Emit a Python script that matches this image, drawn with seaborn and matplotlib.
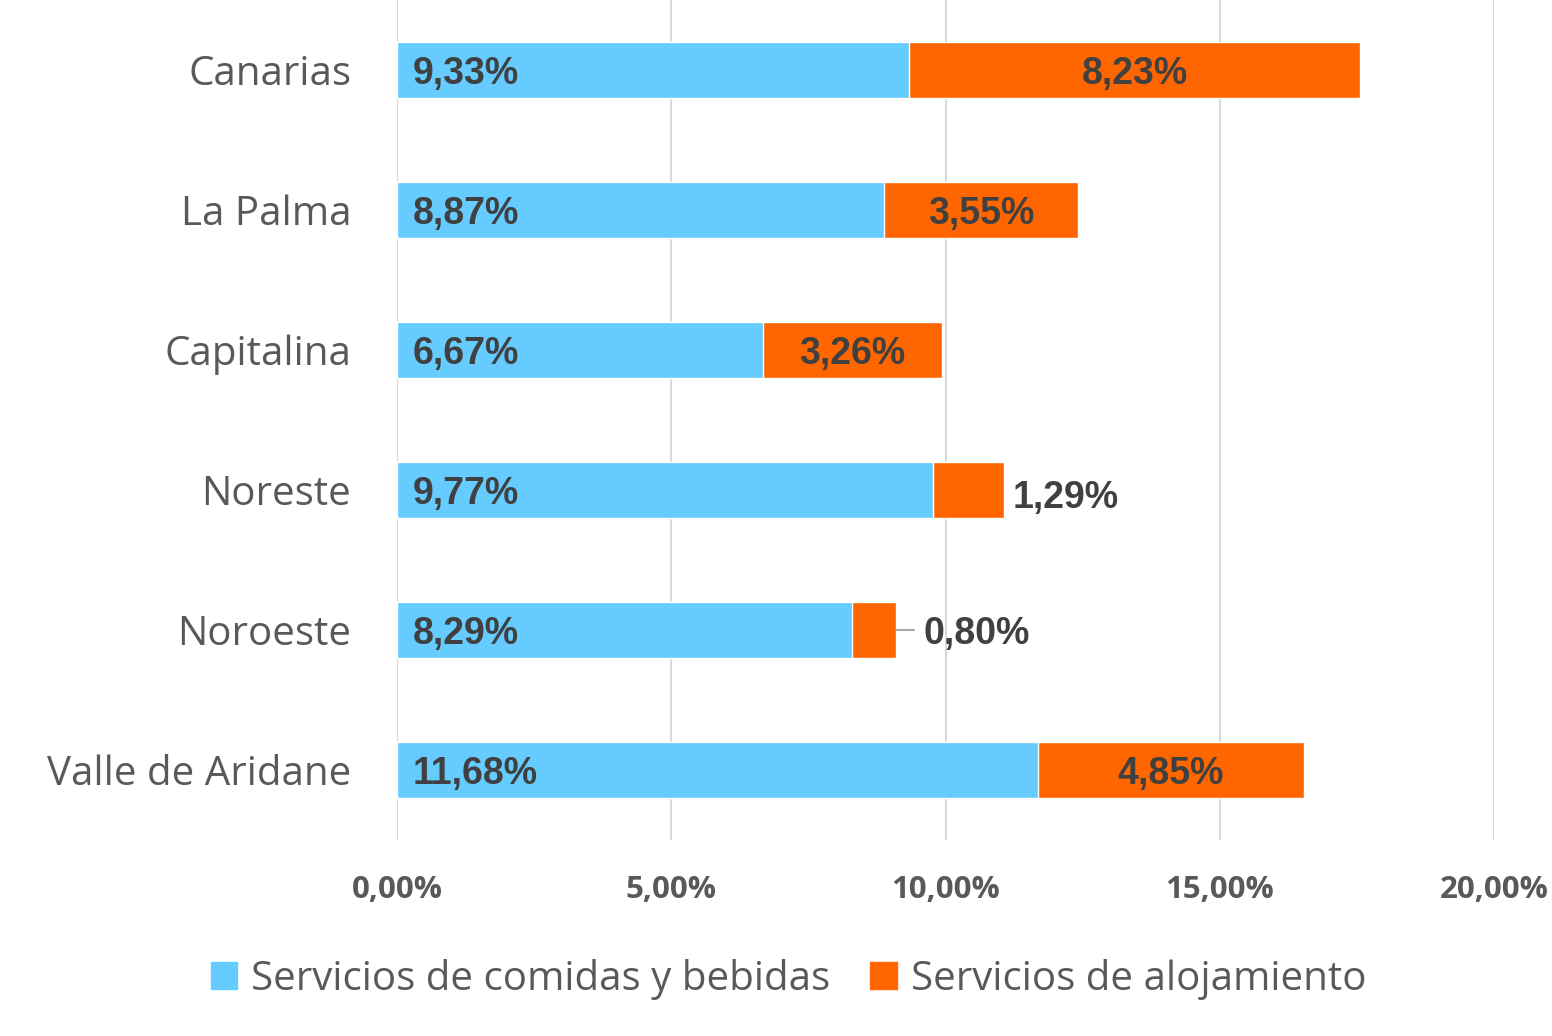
import numpy as np
import pandas as pd
import matplotlib.pyplot as plt
import seaborn as sns
from matplotlib.patches import Patch

# Values (percent)
zonas = ["Canarias", "La Palma", "Capitalina", "Noreste", "Noroeste", "Valle de Aridane"]
comidas = [9.33, 8.87, 6.67, 9.77, 8.29, 11.68]
alojamiento = [8.23, 3.55, 3.26, 1.29, 0.80, 4.85]
ticks = [0, 5, 10, 15, 20]

azul = "#66CCFF"
naranja = "#FF6600"

df = pd.DataFrame({"zona": zonas, "comidas": comidas, "alojamiento": alojamiento})
df["total"] = df["comidas"] + df["alojamiento"]

sns.set_style("white")
plt.rcParams["font.family"] = ["Open Sans", "DejaVu Sans"]

fig = plt.figure(figsize=(15.52, 10.36), dpi=100)
ax = fig.add_axes([397 / 1552, 1 - 840 / 1036, (1494 - 397) / 1552, 840 / 1036])

# stacked bars: total in orange, then blue on top
sns.barplot(data=df, x="total", y="zona", color=naranja, width=0.4,
            saturation=1, orient="h", ax=ax, zorder=2)
sns.barplot(data=df, x="comidas", y="zona", color=azul, width=0.4,
            saturation=1, orient="h", ax=ax, zorder=3)

ax.set_xlim(0, 20)
ax.set_ylim(5.5, -0.5)
ax.set_xticks(ticks)
ax.set_xticklabels([f"{t:.2f}%".replace(".", ",") for t in ticks],
                   fontsize=22.5, fontweight="bold", color="#595959")
ax.tick_params(axis="x", length=0, pad=25)
ax.tick_params(axis="y", length=0, pad=33)
ax.set_yticks(range(len(zonas)))
ax.set_yticklabels(zonas, fontsize=29, color="#595959")
ax.set_xlabel("")
ax.set_ylabel("")
ax.grid(axis="x", color="#D9D9D9", linewidth=1.5, zorder=0)
ax.set_axisbelow(True)
for s in ax.spines.values():
    s.set_visible(False)

lab = dict(fontsize=27, fontweight="bold", color="#404040",
           family=["Liberation Sans", "DejaVu Sans"], zorder=5)
for i, (c, a) in enumerate(zip(comidas, alojamiento)):
    ax.text(0.28, i + 0.025, f"{c:.2f}%".replace(".", ","), ha="left", va="center", **lab)
    txt = f"{a:.2f}%".replace(".", ",")
    if a > 2:
        ax.text(c + a / 2, i + 0.025, txt, ha="center", va="center", **lab)
    elif a > 1:
        ax.text(c + a + 0.17, i + 0.06, txt, ha="left", va="center", **lab)
    else:
        ax.plot([c + a, c + a + 0.33], [i, i], color="#A6A6A6", lw=1.5, zorder=4)
        ax.text(c + a + 0.5, i + 0.025, txt, ha="left", va="center", **lab)

handles = [Patch(color=azul, label="Servicios de comidas y bebidas"),
           Patch(color=naranja, label="Servicios de alojamiento")]
leg = fig.legend(handles=handles, loc="center", bbox_to_anchor=(0.508, 0.055),
                 ncol=2, frameon=False, fontsize=29, handlelength=0.65,
                 handleheight=0.65, handletextpad=0.35, columnspacing=1.0)
for t in leg.get_texts():
    t.set_color("#595959")

fig.savefig("out.png", dpi=100)
